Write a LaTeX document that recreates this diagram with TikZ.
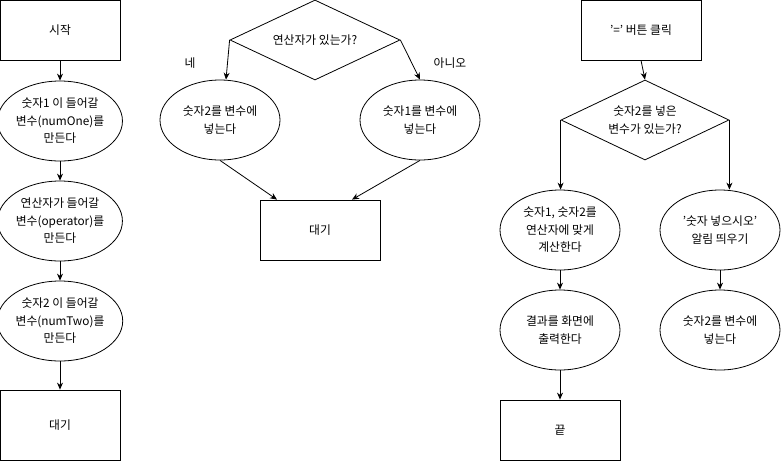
\documentclass[tikz,border=0pt]{standalone}
\usepackage{fontspec}
\setmainfont{Noto Sans CJK KR}
\usetikzlibrary{shapes.geometric,arrows.meta}
\tikzset{
  box/.style={draw, line width=0.8pt, minimum width=120pt, minimum height=60pt, inner sep=0pt, align=center},
  oval/.style={draw, ellipse, line width=0.8pt, minimum width=120pt, minimum height=80pt, inner sep=0pt, align=center},
  decide/.style={draw, diamond, line width=0.8pt, inner sep=0pt, align=center},
  arr/.style={line width=0.8pt, -{Stealth[length=7pt,width=6pt]}},
  lbl/.style={inner sep=0pt}
}
\begin{document}
\begin{tikzpicture}[x=1pt, y=-1pt, font=\fontsize{11.8}{17.5}\selectfont]
\useasboundingbox (0,0) rectangle (781,461);
% left column
\node[box] (s1) at (60,30) {시작};
\node[oval] (e1) at (60,121) {숫자1 이 들어갈\\변수(numOne)를\\만든다};
\node[oval] (e2) at (60,221) {연산자가 들어갈\\변수(operator)를\\만든다};
\node[oval] (e3) at (60,321) {숫자2 이 들어갈\\변수(numTwo)를\\만든다};
\node[box, minimum height=70pt] (w1) at (60,425) {대기};
\draw[arr] (s1.south) -- (e1.north);
\draw[arr] (e1.south) -- (e2.north);
\draw[arr] (e2.south) -- (e3.north);
\draw[arr] (e3.south) -- (w1.north);
% middle
\node[decide, minimum width=170pt, minimum height=80pt, shape aspect=2.125] (d1) at (315,40) {연산자가 있는가?};
\node[oval] (m1) at (220,120) {숫자2를 변수에\\넣는다};
\node[oval] (m2) at (420,120) {숫자1를 변수에\\넣는다};
\node[box] (w2) at (320,230) {대기};
\node[lbl] (yes) at (190,63) {네};
\node[lbl] (no) at (450,63) {아니오};
\draw[arr] (d1.west) -- ([xshift=6pt]m1.north);
\draw[arr] (d1.east) -- (m2.north);
\draw[arr] (m1.south) -- ([xshift=-43pt]w2.north);
\draw[arr] (m2.south) -- ([xshift=32pt]w2.north);
% right
\node[box] (r1) at (641,30) {'=' 버튼 클릭};
\node[decide, minimum width=168pt, minimum height=80pt, shape aspect=2.1] (d2) at (645,120) {숫자2를 넣은\\변수가 있는가?};
\node[oval] (c1) at (560,230) {숫자1, 숫자2를\\연산자에 맞게\\계산한다};
\node[oval] (c2) at (720,230) {'숫자 넣으시오'\\알림 띄우기};
\node[oval] (c3) at (560,330) {결과를 화면에\\출력한다};
\node[oval] (c4) at (720,330) {숫자2를 변수에\\넣는다};
\node[box] (end) at (560,430) {끝};
\draw[arr] (r1.south) -- (d2.north);
\draw[arr] (d2.west) -- (d2.west |- c1.north);
\draw[arr] (d2.east) -- (d2.east |- c2.north);
\draw[arr] (c1.south) -- (c3.north);
\draw[arr] (c3.south) -- (end.north);
\draw[arr] (c2.south) -- (c4.north);
\end{tikzpicture}
\end{document}
